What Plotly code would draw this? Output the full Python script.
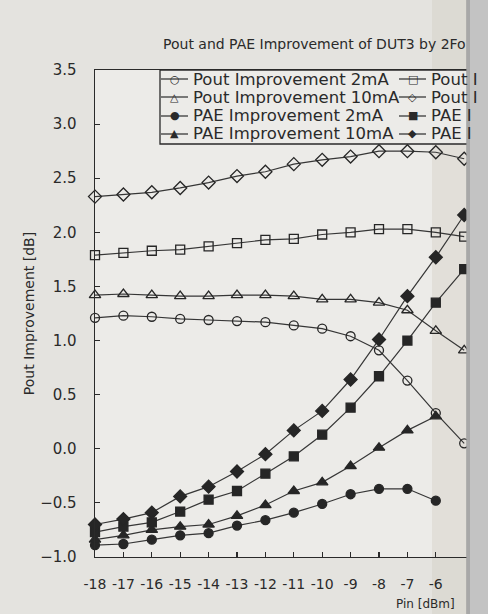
import plotly.graph_objects as go

# ---------------- data ----------------
PIN = [-18, -17, -16, -15, -14, -13, -12, -11, -10, -9, -8, -7, -6, -5]
PIN_SHORT = [-18, -17, -16, -15, -14, -13, -12, -11, -10, -9, -8, -7, -6]
X_TICKS = [-18, -17, -16, -15, -14, -13, -12, -11, -10, -9, -8, -7, -6]
X_TICK_TEXT = ["-18", "-17", "-16", "-15", "-14", "-13", "-12", "-11", "-10", "-9", "-8", "-7", "-6"]

POUT_2MA = [1.21, 1.23, 1.22, 1.20, 1.19, 1.18, 1.17, 1.14, 1.11, 1.04, 0.91, 0.63, 0.33, 0.05]
POUT_10MA = [1.42, 1.43, 1.42, 1.41, 1.41, 1.42, 1.42, 1.41, 1.38, 1.38, 1.35, 1.28, 1.09, 0.91]
POUT_SQ = [1.79, 1.81, 1.83, 1.84, 1.87, 1.90, 1.93, 1.94, 1.98, 2.00, 2.03, 2.03, 2.00, 1.96]
POUT_DIA = [2.33, 2.35, 2.37, 2.41, 2.46, 2.52, 2.56, 2.63, 2.67, 2.70, 2.75, 2.75, 2.74, 2.68]
PAE_2MA = [-0.89, -0.88, -0.84, -0.80, -0.78, -0.71, -0.66, -0.59, -0.51, -0.42, -0.37, -0.37, -0.48]
PAE_10MA = [-0.84, -0.80, -0.75, -0.72, -0.70, -0.62, -0.52, -0.39, -0.31, -0.16, 0.01, 0.17, 0.30]
PAE_SQ = [-0.77, -0.72, -0.68, -0.58, -0.47, -0.39, -0.23, -0.07, 0.13, 0.38, 0.67, 1.00, 1.35, 1.66]
PAE_DIA = [-0.70, -0.65, -0.59, -0.44, -0.35, -0.21, -0.05, 0.17, 0.35, 0.64, 1.01, 1.41, 1.77, 2.16]

LEFT_LEGEND = [("○", "Pout Improvement 2mA"), ("△", "Pout Improvement 10mA"),
               ("●", "PAE Improvement 2mA"), ("▲", "PAE Improvement 10mA")]
RIGHT_LEGEND = [("□", "Pout I"), ("◇", "Pout I"), ("■", "PAE I"), ("◆", "PAE I")]

TITLE = "Pout and PAE Improvement of DUT3 by 2Fo"

# ---------------- styling / layout ----------------
W_FIG, H_FIG = 488, 614
L, R, T, B = 95, 488, 70, 557
PX_PER_UNIT = 28.4
INK = "#2a2a2a"
PAPER = "#e4e3df"
PLOT_BG = "#ecebe8"
FONT = "DejaVu Sans"


def fx(p):
    return (p - L) / (R - L)


def fy(p):
    return 1 - (p - T) / (B - T)


series = [
    (PIN, POUT_2MA, "circle-open", 9, "Pout Improvement 2mA"),
    (PIN, POUT_10MA, "triangle-up-open", 10, "Pout Improvement 10mA"),
    (PIN, POUT_SQ, "square-open", 9, "Pout Improvement (square)"),
    (PIN, POUT_DIA, "diamond-open", 10, "Pout Improvement (diamond)"),
    (PIN_SHORT, PAE_2MA, "circle", 9, "PAE Improvement 2mA"),
    (PIN_SHORT, PAE_10MA, "triangle-up", 10, "PAE Improvement 10mA"),
    (PIN, PAE_SQ, "square", 9, "PAE Improvement (square)"),
    (PIN, PAE_DIA, "diamond", 10, "PAE Improvement (diamond)"),
]

fig = go.Figure()
for xs, ys, sym, size, name in series:
    fig.add_trace(go.Scatter(
        x=xs, y=ys, mode="lines+markers", name=name, showlegend=False,
        cliponaxis=False, hoverinfo="skip",
        line=dict(color="#363636", width=1.2),
        marker=dict(symbol=sym, size=size, color="#262626",
                    line=dict(color="#262626", width=1.3)),
    ))

x_end = -18 + (R - L) / PX_PER_UNIT

shapes = []
# legend frame
shapes.append(dict(type="rect", xref="paper", yref="paper",
                   x0=fx(160), x1=fx(500), y0=fy(144), y1=fy(70),
                   line=dict(color=INK, width=1.3), fillcolor=PLOT_BG, layer="above"))
annotations = []
rows = [79, 97, 116, 134]
for (g, txt), yy in zip(LEFT_LEGEND, rows):
    shapes.append(dict(type="line", xref="paper", yref="paper",
                       x0=fx(161), x1=fx(188), y0=fy(yy), y1=fy(yy),
                       line=dict(color=INK, width=1.2), layer="above"))
    annotations.append(dict(text=g, x=fx(174.5), y=fy(yy), xref="paper", yref="paper",
                            xanchor="center", yanchor="middle", showarrow=False,
                            font=dict(family=FONT, size=11, color=INK)))
    annotations.append(dict(text=txt, x=fx(191), y=fy(yy), xref="paper", yref="paper",
                            xanchor="left", yanchor="middle", showarrow=False,
                            font=dict(family=FONT, size=16.5, color=INK)))
for (g, txt), yy in zip(RIGHT_LEGEND, rows):
    shapes.append(dict(type="line", xref="paper", yref="paper",
                       x0=fx(399), x1=fx(426), y0=fy(yy), y1=fy(yy),
                       line=dict(color=INK, width=1.2), layer="above"))
    annotations.append(dict(text=g, x=fx(412.5), y=fy(yy), xref="paper", yref="paper",
                            xanchor="center", yanchor="middle", showarrow=False,
                            font=dict(family=FONT, size=11, color=INK)))
    annotations.append(dict(text=txt, x=fx(429), y=fy(yy), xref="paper", yref="paper",
                            xanchor="left", yanchor="middle", showarrow=False,
                            font=dict(family=FONT, size=16.5, color=INK)))

# page shadow near the fold and dark background strip at the right edge
shapes.append(dict(type="rect", xref="paper", yref="paper",
                   x0=fx(432), x1=fx(467), y0=-0.2, y1=1.2,
                   line=dict(width=0), fillcolor="#c9c2b3", opacity=0.28, layer="below"))
shapes.append(dict(type="rect", xref="paper", yref="paper",
                   x0=fx(467), x1=fx(500), y0=-0.2, y1=1.2,
                   line=dict(width=0), fillcolor="#c3c3c3", layer="above"))
shapes.append(dict(type="rect", xref="paper", yref="paper",
                   x0=fx(466), x1=fx(470), y0=-0.2, y1=1.2,
                   line=dict(width=0), fillcolor="#9c9c9c", opacity=0.7, layer="above"))

annotations.append(dict(text="Pin [dBm]", x=fx(425), y=fy(604), xref="paper", yref="paper",
                        xanchor="center", yanchor="middle", showarrow=False,
                        font=dict(family=FONT, size=12, color=INK)))

fig.update_layout(
    width=W_FIG, height=H_FIG,
    margin=dict(l=L, r=W_FIG - R, t=T, b=H_FIG - B),
    paper_bgcolor=PAPER, plot_bgcolor=PLOT_BG,
    title=dict(text=TITLE, x=163 / W_FIG, xref="container", xanchor="left",
               y=1 - 44 / H_FIG, yref="container", yanchor="middle",
               font=dict(family=FONT, size=14, color=INK)),
    shapes=shapes, annotations=annotations,
    showlegend=False, hovermode=False,
)
fig.update_xaxes(range=[-18, x_end], tickmode="array", tickvals=X_TICKS, ticktext=X_TICK_TEXT,
                 ticks="inside", ticklen=5, tickwidth=1.2, tickcolor=INK, tickangle=0,
                 showline=True, linecolor=INK, linewidth=1.4, mirror=True,
                 showgrid=False, zeroline=False, ticklabelstandoff=14,
                 tickfont=dict(family=FONT, size=14, color=INK))
fig.update_yaxes(range=[-1, 3.5], dtick=0.5, tick0=-1, tickformat=".1f",
                 ticks="inside", ticklen=5, tickwidth=1.2, tickcolor=INK,
                 showline=True, linecolor=INK, linewidth=1.4,
                 showgrid=False, zeroline=False, ticklabelstandoff=14,
                 tickfont=dict(family=FONT, size=15, color=INK),
                 title=dict(text="Pout Improvement [dB]", standoff=2,
                            font=dict(family=FONT, size=14, color=INK)))

fig.write_html(
    "out.html",
    config={"displayModeBar": False, "staticPlot": True},
    post_script=("document.documentElement.style.overflow='hidden';"
                 "document.body.style.margin='0';document.body.style.overflow='hidden';"),
)
